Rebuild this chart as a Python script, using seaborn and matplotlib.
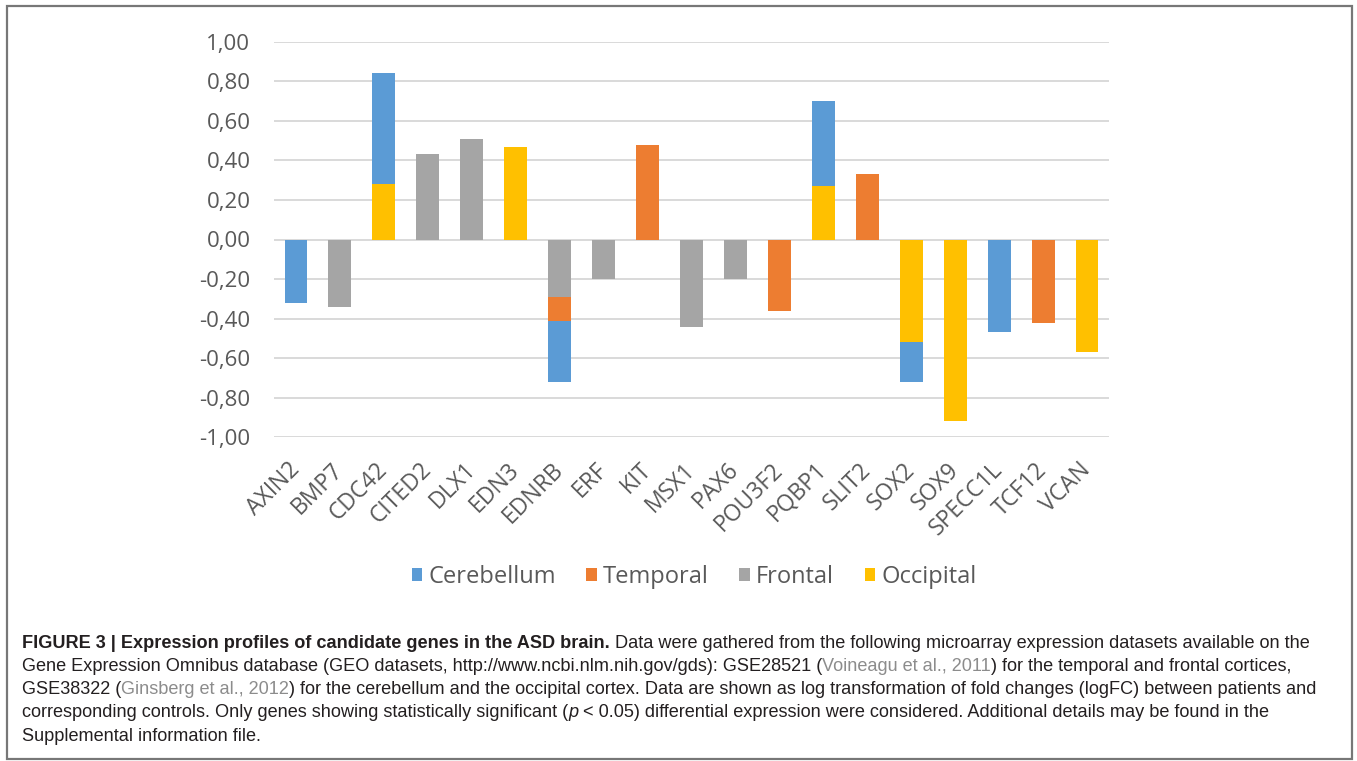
import numpy as np
import pandas as pd
import matplotlib
matplotlib.use("Agg")
import matplotlib.pyplot as plt
import seaborn as sns
from matplotlib.font_manager import FontProperties
from matplotlib.patches import Patch, Rectangle

# logFC per gene and brain region (NaN = not significant)
genes = ["AXIN2", "BMP7", "CDC42", "CITED2", "DLX1", "EDN3", "EDNRB", "ERF", "KIT",
         "MSX1", "PAX6", "POU3F2", "PQBP1", "SLIT2", "SOX2", "SOX9", "SPECC1L", "TCF12", "VCAN"]
n = np.nan
cerebellum = [-0.32, n, 0.84, n, n, n, -0.72, n, n, n, n, n, 0.70, n, -0.72, n, -0.47, n, n]
temporal = [n, n, n, n, n, n, -0.41, n, 0.48, n, n, -0.36, n, 0.33, n, n, n, -0.42, n]
frontal = [n, -0.34, n, 0.43, 0.51, n, -0.29, -0.20, n, -0.44, -0.20, n, n, n, n, n, n, n, n]
occipital = [n, n, 0.28, n, n, 0.47, n, n, n, n, n, n, 0.27, n, -0.52, -0.92, n, n, -0.57]

regions = ["Cerebellum", "Temporal", "Frontal", "Occipital"]
colors = ["#5B9BD5", "#ED7D31", "#A5A5A5", "#FFC000"]

df = pd.concat([
    pd.DataFrame({"Gene": genes, "logFC": vals, "Region": reg})
    for reg, vals in zip(regions, [cerebellum, temporal, frontal, occipital])
]).dropna()

sns.set_style("white")
plt.rcParams["font.family"] = ["Open Sans", "DejaVu Sans"]

W, H = 1357, 761
fig = plt.figure(figsize=(W / 100, H / 100), dpi=100)
ax = fig.add_axes([274 / W, 1 - 437.3 / H, (1109 - 274) / W, (437.3 - 41.7) / H])

# overlapping bars (Excel "100% overlap"), later regions drawn on top
sns.barplot(data=df, x="Gene", y="logFC", hue="Region", hue_order=regions,
            order=genes, palette=colors, dodge=False, width=0.52,
            saturation=1, errorbar=None, linewidth=0, ax=ax)
ax.get_legend().remove()

ax.set_xlim(-0.5, len(genes) - 0.5)
ax.set_ylim(-1, 1)
yt = np.round(np.arange(-1, 1.001, 0.2), 2) + 0.0
ax.set_yticks(yt)
ax.set_yticklabels([f"{abs(v):.2f}".replace(".", ",") if abs(v) < 1e-9 else f"{v:.2f}".replace(".", ",")
                    for v in yt], fontsize=16, color="#595959")
ax.set_xticks(range(len(genes)))
ax.set_xticklabels(genes, rotation=45, ha="right", va="center", rotation_mode="anchor",
                   fontsize=16.5, color="#595959")
ax.tick_params(axis="y", length=0, pad=17)
ax.tick_params(axis="x", length=0, pad=21)
ax.yaxis.grid(True, color="#D9D9D9", lw=1.4)
ax.set_axisbelow(True)
for s in ax.spines.values():
    s.set_visible(False)
ax.set_xlabel("")
ax.set_ylabel("")

handles = [Patch(facecolor=c, edgecolor="none") for c in colors]
fig.legend(handles, regions, loc="center", bbox_to_anchor=(694 / W, 1 - 577 / H), ncol=4,
           frameon=False, fontsize=17, handlelength=0.45, handleheight=0.45,
           handletextpad=0.25, columnspacing=1.3, labelcolor="#595959")

# frame around figure + caption
fig.add_artist(Rectangle((7 / W, 2 / H), (1352 - 7) / W, (H - 8) / H, transform=fig.transFigure,
                         fill=False, ec="#777777", lw=1.6))

renderer = fig.canvas.get_renderer()
black, grey = "#231f20", "#8c8c8c"


def caption_line(y_px, segments):
    x = 22.0
    for text, weight, color, style in segments:
        fp = FontProperties(family="Liberation Sans", size=13.05, weight=weight, style=style)
        fig.text(x / W, 1 - y_px / H, text, fontproperties=fp, color=color,
                 ha="left", va="baseline")
        w1 = renderer.get_text_width_height_descent("|" + text + "|", fp, ismath=False)[0]
        w0 = renderer.get_text_width_height_descent("||", fp, ismath=False)[0]
        x += w1 - w0


caption = [
    [("FIGURE 3 | Expression profiles of candidate genes in the ASD brain. ", "bold", black, "normal"),
     ("Data were gathered from the following microarray expression datasets available on the", "normal", black, "normal")],
    [("Gene Expression Omnibus database (GEO datasets, http://www.ncbi.nlm.nih.gov/gds): GSE28521 (", "normal", black, "normal"),
     ("Voineagu et al., 2011", "normal", grey, "normal"),
     (") for the temporal and frontal cortices,", "normal", black, "normal")],
    [("GSE38322 (", "normal", black, "normal"),
     ("Ginsberg et al., 2012", "normal", grey, "normal"),
     (") for the cerebellum and the occipital cortex. Data are shown as log transformation of fold changes (logFC) between patients and", "normal", black, "normal")],
    [("corresponding controls. Only genes showing statistically significant (", "normal", black, "normal"),
     ("p", "normal", black, "italic"),
     (" < 0.05) differential expression were considered. Additional details may be found in the", "normal", black, "normal")],
    [("Supplemental information file.", "normal", black, "normal")],
]
for i, segs in enumerate(caption):
    caption_line(647.5 + i * 23.3, segs)

fig.savefig("out.png", dpi=100)
